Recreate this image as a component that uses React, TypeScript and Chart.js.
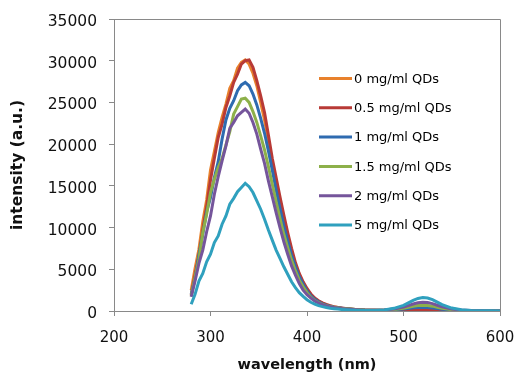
import React, { useEffect, useRef } from "react";
import { Chart, registerables } from "chart.js";

Chart.register(...registerables);

const wavelengths = [
  280, 284, 288, 292, 296, 300, 304, 308, 312, 316, 320, 324, 328, 332, 336, 340,
  344, 348, 352, 356, 360, 364, 368, 372, 376, 380, 384, 388, 392, 396, 400, 404,
  408, 412, 416, 420, 424, 428, 432, 436, 440, 450, 460, 470, 480, 490, 500, 505,
  510, 515, 520, 525, 530, 535, 540, 550, 560, 570, 580, 590, 600,
];

const qd0 = [
  2500, 5100, 7400, 10700, 13300, 16900, 19100, 21400, 23200, 24800, 26700, 27600, 29100, 29800, 30100, 29600,
  28500, 27000, 25000, 22900, 20400, 17800, 15200, 12900, 10700, 8800, 7000, 5500, 4300, 3300, 2500, 1900,
  1450, 1150, 920, 740, 600, 490, 410, 340, 290, 190, 130, 100, 100, 130, 190, 240,
  280, 310, 320, 300, 260, 210, 160, 90, 50, 25, 15, 10, 5,
];

const qd05 = [
  1900, 4300, 6600, 9700, 12500, 15700, 18300, 20800, 22400, 24400, 25800, 27400, 28400, 29600, 30000, 30100,
  29200, 27600, 25800, 23800, 21100, 18300, 16000, 13700, 11500, 9400, 7500, 5800, 4500, 3500, 2700, 2050,
  1550, 1220, 970, 780, 640, 520, 430, 360, 300, 190, 120, 80, 60, 70, 100, 120,
  140, 160, 170, 160, 140, 110, 80, 40, 20, 10, 5, 0, 0,
];

const qd1 = [
  2000, 3900, 6700, 9200, 11900, 13600, 16000, 17900, 20600, 22900, 24300, 25200, 26400, 27100, 27400, 27000,
  26000, 24700, 23100, 21300, 19200, 16900, 14500, 12300, 10200, 8400, 6700, 5300, 4100, 3200, 2400, 1800,
  1400, 1100, 860, 690, 560, 460, 380, 320, 270, 180, 120, 90, 90, 140, 240, 310,
  380, 430, 450, 430, 370, 290, 220, 110, 50, 25, 10, 5, 0,
];

const qd15 = [
  1800, 4000, 6200, 9400, 11600, 14200, 15800, 17200, 18300, 19900, 21500, 23600, 24500, 25400, 25500, 25000,
  23900, 22600, 21000, 19300, 17300, 15200, 13100, 11100, 9200, 7600, 6100, 4800, 3700, 2900, 2200, 1650,
  1250, 1000, 800, 650, 530, 440, 370, 310, 260, 170, 110, 80, 90, 180, 340, 460,
  570, 660, 700, 670, 580, 450, 330, 160, 70, 35, 15, 5, 0,
];

const qd2 = [
  1700, 3600, 5700, 7300, 9500, 11400, 14000, 16100, 18000, 19800, 21900, 22600, 23400, 23800, 24200, 23700,
  22600, 21200, 19400, 17700, 15600, 13700, 11800, 10000, 8300, 6800, 5400, 4300, 3300, 2500, 1950, 1550,
  1200, 950, 760, 620, 500, 410, 340, 280, 230, 160, 100, 80, 110, 240, 470, 650,
  840, 990, 1050, 1010, 880, 690, 500, 240, 110, 50, 25, 10, 5,
];

const qd5 = [
  800, 2000, 3600, 4500, 5900, 6800, 8200, 9000, 10400, 11400, 12800, 13500, 14300, 14800, 15300, 14900,
  14200, 13200, 12200, 11000, 9700, 8500, 7300, 6300, 5300, 4400, 3500, 2800, 2200, 1750, 1350, 1050,
  820, 650, 520, 420, 340, 280, 230, 190, 160, 100, 70, 70, 130, 320, 680, 970,
  1270, 1510, 1620, 1560, 1360, 1060, 760, 350, 150, 70, 30, 15, 10,
];

const seriesLabels = [
  "0 mg/ml QDs",
  "0.5 mg/ml QDs",
  "1 mg/ml QDs",
  "1.5 mg/ml QDs",
  "2 mg/ml QDs",
  "5 mg/ml QDs",
];
const seriesValues = [qd0, qd05, qd1, qd15, qd2, qd5];
const seriesColors = ["#E8812C", "#B83A36", "#2E6BB0", "#8DB04A", "#75559B", "#2FA0BE"];

const xTicks = [200, 300, 400, 500, 600];
const yTicks = [0, 5000, 10000, 15000, 20000, 25000, 30000, 35000];

const AXIS_GRAY = "#898989";

const legendPlugin = {
  id: "customLegend",
  afterDraw(chart: any) {
    const { ctx, chartArea } = chart;
    const x0 = chartArea.left + 205;
    const y0 = chartArea.top + 59.5;
    const step = 29.3;
    ctx.save();
    ctx.font = "13px 'DejaVu Sans'";
    ctx.textBaseline = "middle";
    ctx.textAlign = "left";
    chart.data.datasets.forEach((ds: any, i: number) => {
      const y = y0 + i * step;
      ctx.strokeStyle = ds.borderColor;
      ctx.lineWidth = 3;
      ctx.beginPath();
      ctx.moveTo(x0, y);
      ctx.lineTo(x0 + 33, y);
      ctx.stroke();
      ctx.fillStyle = "#000";
      ctx.fillText(ds.label, x0 + 35, y + 1);
    });
    ctx.restore();
  },
};

const borderPlugin = {
  id: "plotBorder",
  afterDraw(chart: any) {
    const { ctx, chartArea } = chart;
    ctx.save();
    ctx.strokeStyle = AXIS_GRAY;
    ctx.lineWidth = 1;
    ctx.beginPath();
    ctx.moveTo(Math.round(chartArea.left) + 0.5, Math.round(chartArea.top) + 0.5);
    ctx.lineTo(Math.round(chartArea.right) + 0.5, Math.round(chartArea.top) + 0.5);
    ctx.lineTo(Math.round(chartArea.right) + 0.5, Math.round(chartArea.bottom) + 0.5);
    ctx.stroke();
    ctx.restore();
  },
};

export default function App() {
  const canvasRef = useRef<HTMLCanvasElement | null>(null);

  useEffect(() => {
    if (!canvasRef.current) return;
    const datasets = seriesValues.map((vals, i) => ({
      label: seriesLabels[i],
      data: wavelengths.map((w, j) => ({ x: w, y: vals[j] })),
      borderColor: seriesColors[i],
      backgroundColor: seriesColors[i],
      borderWidth: 3,
      pointRadius: 0,
      tension: 0,
      fill: false,
      order: seriesValues.length - i,
    }));

    const chart = new Chart(canvasRef.current, {
      type: "line",
      data: { datasets },
      options: {
        animation: false,
        responsive: false,
        devicePixelRatio: 1,
        layout: { padding: { left: 0, top: 19, right: 17, bottom: 0 } },
        plugins: {
          legend: { display: false },
          tooltip: { enabled: false },
        },
        scales: {
          x: {
            type: "linear",
            min: 200,
            max: 600,
            afterBuildTicks: (scale: any) => {
              scale.ticks = xTicks.map((v) => ({ value: v }));
            },
            afterFit: (scale: any) => {
              scale.height = 61;
              scale.paddingLeft = 0;
              scale.paddingRight = 0;
            },
            ticks: {
              color: "#111",
              font: { family: "'DejaVu Sans'", size: 15 },
              padding: 13,
              maxRotation: 0,
            },
            grid: {
              drawOnChartArea: false,
              drawTicks: true,
              tickLength: 5,
              color: AXIS_GRAY,
            },
            border: { color: AXIS_GRAY, width: 1 },
            title: {
              display: true,
              text: "wavelength (nm)",
              color: "#111",
              font: { family: "'DejaVu Sans'", size: 14.5, weight: "bold", lineHeight: 1 },
              padding: { top: 0, bottom: 0 },
            },
          },
          y: {
            type: "linear",
            min: 0,
            max: 35000,
            afterBuildTicks: (scale: any) => {
              scale.ticks = yTicks.map((v) => ({ value: v }));
            },
            afterFit: (scale: any) => {
              scale.width = 114;
              scale.paddingTop = 0;
              scale.paddingBottom = 0;
            },
            ticks: {
              color: "#111",
              font: { family: "'DejaVu Sans'", size: 15.5 },
              padding: 12,
              labelOffset: 3,
              callback: (v: any) => String(v),
            },
            grid: {
              drawOnChartArea: false,
              drawTicks: true,
              tickLength: 5,
              color: AXIS_GRAY,
            },
            border: { color: AXIS_GRAY, width: 1 },
            title: {
              display: true,
              text: "intensity (a.u.)",
              color: "#111",
              font: { family: "'DejaVu Sans'", size: 15.5, weight: "bold" },
              padding: { top: 9, bottom: 0 },
            },
          },
        },
      },
      plugins: [legendPlugin, borderPlugin],
    } as any);

    return () => chart.destroy();
  }, []);

  return (
    <div style={{ position: "fixed", left: 0, top: 0, width: 517, height: 372, background: "#fff" }}>
      <canvas ref={canvasRef} width={517} height={372} style={{ display: "block", width: 517, height: 372 }} />
    </div>
  );
}
